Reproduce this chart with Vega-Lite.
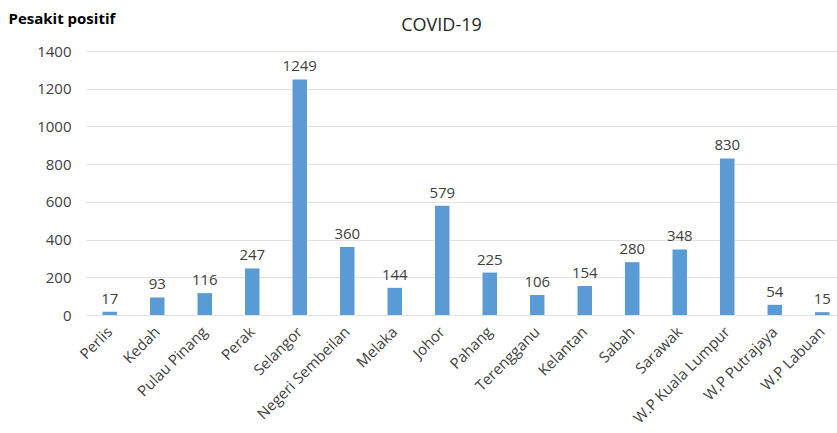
{
  "$schema": "https://vega.github.io/schema/vega-lite/v6.json",
  "autosize": {"type": "none"},
  "padding": {"left": 86, "top": 51, "right": 0, "bottom": 118},
  "width": 751,
  "height": 264,
  "background": "white",
  "title": {
    "text": "COVID-19",
    "font": "Open Sans",
    "fontSize": 18,
    "fontWeight": "normal",
    "color": "#262626",
    "anchor": "middle",
    "baseline": "alphabetic",
    "offset": -38,
    "dx": -20
  },
  "data": {
    "values": [
      {"negeri": "Perlis", "kes": 17},
      {"negeri": "Kedah", "kes": 93},
      {"negeri": "Pulau Pinang", "kes": 116},
      {"negeri": "Perak", "kes": 247},
      {"negeri": "Selangor", "kes": 1249},
      {"negeri": "Negeri Sembeilan", "kes": 360},
      {"negeri": "Melaka", "kes": 144},
      {"negeri": "Johor", "kes": 579},
      {"negeri": "Pahang", "kes": 225},
      {"negeri": "Terengganu", "kes": 106},
      {"negeri": "Kelantan", "kes": 154},
      {"negeri": "Sabah", "kes": 280},
      {"negeri": "Sarawak", "kes": 348},
      {"negeri": "W.P Kuala Lumpur", "kes": 830},
      {"negeri": "W.P Putrajaya", "kes": 54},
      {"negeri": "W.P Labuan", "kes": 15}
    ]
  },
  "encoding": {
    "x": {
      "field": "negeri",
      "type": "nominal",
      "sort": null,
      "scale": {"range": [0, 760], "paddingInner": 0.695},
      "axis": {
        "title": null,
        "labelAngle": -45,
        "labelAlign": "right",
        "labelBaseline": "middle",
        "labelPadding": 14,
        "labelFont": "Open Sans",
        "labelFontSize": 15,
        "labelColor": "#404040",
        "ticks": false,
        "domain": false,
        "grid": false
      }
    },
    "y": {
      "field": "kes",
      "type": "quantitative",
      "scale": {"domain": [0, 1400], "nice": false},
      "axis": {
        "values": [0, 200, 400, 600, 800, 1000, 1200, 1400],
        "format": "d",
        "title": "Pesakit positif",
        "titleAngle": 0,
        "titleAlign": "left",
        "titleBaseline": "alphabetic",
        "titleX": -78,
        "titleY": -28,
        "titleFont": "Open Sans",
        "titleFontSize": 15,
        "titleFontWeight": "bold",
        "titleColor": "#000000",
        "labelFont": "Open Sans",
        "labelFontSize": 15,
        "labelColor": "#404040",
        "labelPadding": 15,
        "ticks": false,
        "domain": false,
        "grid": true,
        "gridColor": "#e3e3e3",
        "gridWidth": 1
      }
    }
  },
  "layer": [
    {
      "mark": {"type": "bar", "color": "#5b9bd5"}
    },
    {
      "mark": {
        "type": "text",
        "baseline": "alphabetic",
        "dy": -8,
        "font": "Open Sans",
        "fontSize": 15,
        "color": "#404040"
      },
      "encoding": {
        "text": {"field": "kes", "type": "quantitative"}
      }
    }
  ],
  "config": {
    "view": {"stroke": null}
  }
}
